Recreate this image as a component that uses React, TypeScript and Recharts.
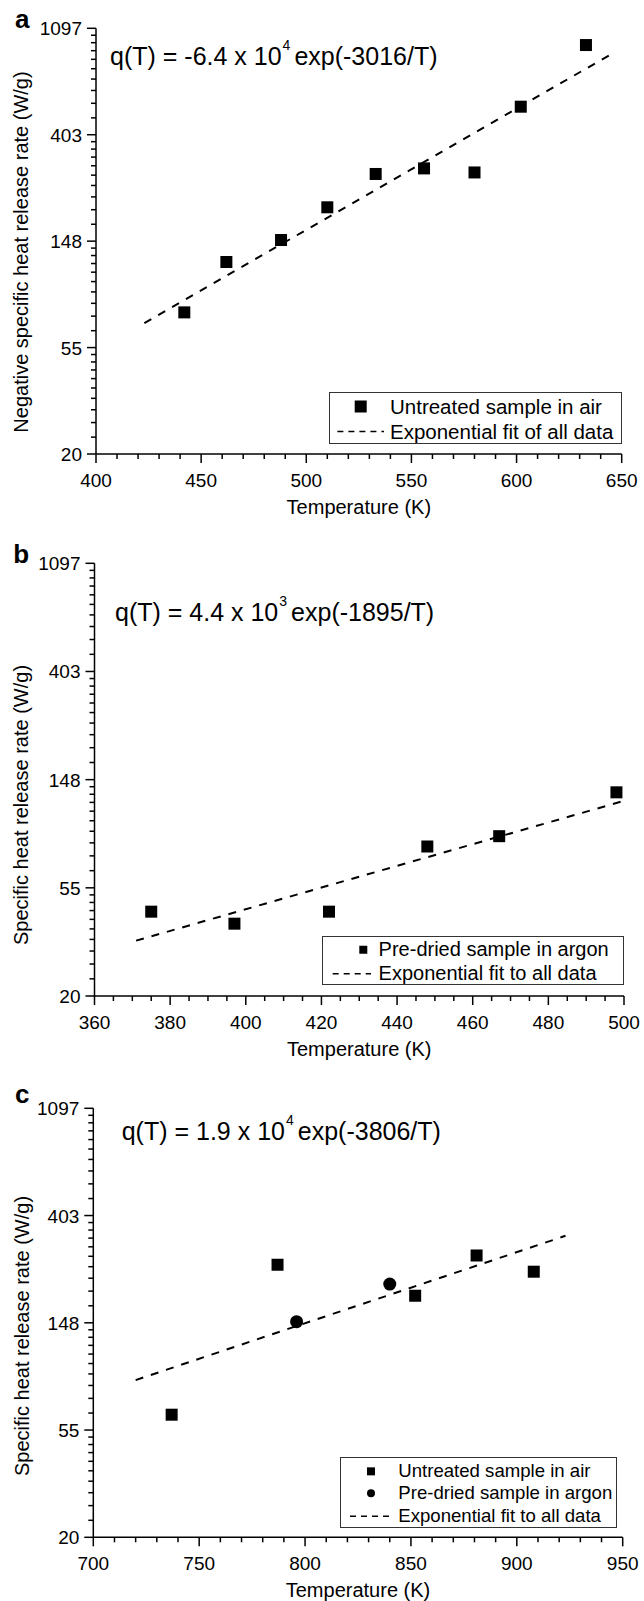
import type { ReactNode } from 'react';
import { ScatterChart, Scatter, XAxis, YAxis, Legend } from 'recharts';

const FONT = '"Liberation Sans", Arial, Helvetica, sans-serif';
const INK = '#000';

// heat release axis is ln-spaced: e^3 … e^7
const Q_MAJOR = [20.0855, 54.5982, 148.4132, 403.4288, 1096.6332];

// panel a – untreated sample in air
const A_T = [442, 462, 488, 510, 533, 556, 580, 602, 633];
const A_Q = [76, 122, 150, 204, 279, 294, 283, 525, 937];
const A_FIT_T = [423, 647];
const A_FIT_Q = [68.7, 880];
const A_X_MAJOR = [400, 450, 500, 550, 600, 650];

// panel b – pre-dried sample in argon
const B_T = [375, 397, 422, 448, 467, 498];
const B_Q = [43.8, 39.2, 43.8, 80, 88, 132];
const B_FIT_T = [371, 500];
const B_FIT_Q = [33.5, 122];
const B_X_MAJOR = [360, 380, 400, 420, 440, 460, 480, 500];

// panel c – both sample types
const C_AIR_T = [737, 787, 852, 881, 908];
const C_AIR_Q = [63, 255, 191, 278, 239];
const C_ARGON_T = [796, 840];
const C_ARGON_Q = [150, 213];
const C_FIT_T = [720, 923];
const C_FIT_Q = [87, 334];
const C_X_MAJOR = [700, 750, 800, 850, 900, 950];

type Pt = { t: number; q: number };
const pts = (ts: number[], qs: number[]): Pt[] => ts.map((t, i) => ({ t, q: qs[i] }));

const qMinor = Q_MAJOR.slice(0, -1).flatMap((lo, i) => {
  const hi = Q_MAJOR[i + 1];
  return Array.from({ length: 9 }, (_, k) => lo + ((k + 1) * (hi - lo)) / 10);
});
const Q_TICKS = [...Q_MAJOR, ...qMinor].sort((a, b) => a - b);

const xTicks = (major: number[], step: number) => {
  const out: number[] = [];
  for (let v = major[0]; v <= major[major.length - 1]; v += step) out.push(v);
  return out;
};

const xTick = (majors: number[]) => (props: any) => {
  const { x, y, payload } = props;
  const major = majors.includes(payload.value);
  return (
    <g>
      <line x1={x} y1={y} x2={x} y2={y + (major ? 9 : 5)} stroke={INK} strokeWidth={1.5} />
      {major && (
        <text x={x} y={y + 33} textAnchor="middle" fontSize={19} fontFamily={FONT} fill={INK}>
          {payload.value}
        </text>
      )}
    </g>
  );
};

const yTick = (props: any) => {
  const { x, y, payload } = props;
  const major = Q_MAJOR.includes(payload.value);
  return (
    <g>
      <line x1={x} y1={y} x2={x - (major ? 9 : 5)} y2={y} stroke={INK} strokeWidth={1.5} />
      {major && (
        <text x={x - 14} y={y + 7} textAnchor="end" fontSize={19} fontFamily={FONT} fill={INK}>
          {Math.round(payload.value)}
        </text>
      )}
    </g>
  );
};

const square = (s: number) => (p: any) =>
  <rect x={p.cx - s / 2} y={p.cy - s / 2} width={s} height={s} fill={INK} />;
const dot = (d: number) => (p: any) => <circle cx={p.cx} cy={p.cy} r={d / 2} fill={INK} />;
const noMark = () => <g />;

const fitLine = { stroke: INK, strokeWidth: 2, strokeDasharray: '8 8' };

type LegendRow = { kind: 'square' | 'circle' | 'dash'; text: string };

interface LegendBoxProps {
  rows: LegendRow[];
  rowH: number;
  padTop: number;
  markX: number;
  textX: number;
  dash: [number, number];
  mark: number;
  fontSize: number;
}

function LegendBox({ rows, rowH, padTop, markX, textX, dash, mark, fontSize }: LegendBoxProps) {
  return (
    <div
      style={{
        boxSizing: 'border-box',
        width: '100%',
        height: '100%',
        border: '1px solid #333',
        background: '#fff',
        paddingTop: padTop,
        fontFamily: FONT,
        fontSize,
        color: INK,
      }}
    >
      {rows.map((r) => (
        <div
          key={r.text}
          style={{ position: 'relative', height: rowH, lineHeight: `${rowH}px`, paddingLeft: textX, whiteSpace: 'nowrap' }}
        >
          <svg style={{ position: 'absolute', left: 0, top: 0 }} width={textX} height={rowH}>
            {r.kind === 'square' && (
              <rect x={markX - mark / 2} y={rowH / 2 - mark / 2} width={mark} height={mark} fill={INK} />
            )}
            {r.kind === 'circle' && <circle cx={markX} cy={rowH / 2} r={mark / 2} fill={INK} />}
            {r.kind === 'dash' && (
              <line x1={dash[0]} y1={rowH / 2} x2={dash[1]} y2={rowH / 2} stroke={INK} strokeWidth={1.5} strokeDasharray="6 5" />
            )}
          </svg>
          {r.text}
        </div>
      ))}
    </div>
  );
}

interface SeriesDef {
  key: string;
  data: Pt[];
  shape: (p: any) => ReactNode;
  line?: boolean;
}

interface PanelProps {
  top: number;
  height: number;
  left: number;
  right: number;
  plotTop: number;
  plotBottom: number;
  xDomain: [number, number];
  xMajor: number[];
  xStep: number;
  yTitle: string;
  yTitleX: number;
  yTitleY: number;
  series: SeriesDef[];
  legendBox: { left: number; top: number; width: number; height: number };
  legend: LegendBoxProps;
}

const Y_AXIS_W = 60;
const W = 644;

function Panel(p: PanelProps) {
  const xAxisH = p.height - p.plotBottom;
  const cx = (p.left + p.right) / 2;
  return (
    <div style={{ position: 'absolute', left: 0, top: p.top, width: W, height: p.height }}>
      <ScatterChart
        width={W}
        height={p.height}
        margin={{ top: p.plotTop, right: W - p.right, bottom: 0, left: p.left - Y_AXIS_W }}
      >
        <XAxis
          type="number"
          dataKey="t"
          domain={p.xDomain}
          ticks={xTicks(p.xMajor, p.xStep)}
          interval={0}
          height={xAxisH}
          tickSize={0}
          tickMargin={0}
          tickLine={false}
          tick={xTick(p.xMajor)}
          axisLine={{ stroke: INK, strokeWidth: 1.5 }}
          allowDataOverflow
          label={() => (
            <text x={cx} y={p.plotBottom + 59.5} textAnchor="middle" fontSize={20} fontFamily={FONT} fill={INK}>
              Temperature (K)
            </text>
          )}
        />
        <YAxis
          type="number"
          dataKey="q"
          scale="log"
          domain={[Q_MAJOR[0], Q_MAJOR[Q_MAJOR.length - 1]]}
          ticks={Q_TICKS}
          interval={0}
          width={Y_AXIS_W}
          tickSize={0}
          tickMargin={0}
          tickLine={false}
          tick={yTick}
          axisLine={{ stroke: INK, strokeWidth: 1.5 }}
          allowDataOverflow
          label={() => (
            <text
              x={p.yTitleX}
              y={p.yTitleY}
              transform={`rotate(-90 ${p.yTitleX} ${p.yTitleY})`}
              textAnchor="middle"
              fontSize={20}
              fontFamily={FONT}
              fill={INK}
            >
              {p.yTitle}
            </text>
          )}
        />
        {p.series.map((s) => (
          <Scatter
            key={s.key}
            data={s.data}
            shape={s.shape}
            line={s.line ? fitLine : false}
            isAnimationActive={false}
          />
        ))}
        <Legend
          layout="vertical"
          align="center"
          verticalAlign="middle"
          wrapperStyle={{ ...p.legendBox }}
          content={() => <LegendBox {...p.legend} />}
        />
      </ScatterChart>
    </div>
  );
}

function Formula({ x, y, coef, power, tail }: { x: number; y: number; coef: string; power: string; tail: string }) {
  return (
    <text x={x} y={y} fontSize={25} fontFamily={FONT} fill={INK}>
      {coef}
      <tspan fontSize={14} dx={1} dy={-15}>
        {power}
      </tspan>
      <tspan dx={4} dy={15}>
        {tail}
      </tspan>
    </text>
  );
}

export default function App() {
  return (
    <div style={{ position: 'absolute', left: 0, top: 0, width: W, height: 1601, background: '#fff' }}>
      <Panel
        top={0}
        height={530}
        left={96}
        right={621.7}
        plotTop={28.3}
        plotBottom={454}
        xDomain={[400, 650]}
        xMajor={A_X_MAJOR}
        xStep={10}
        yTitle="Negative specific heat release rate (W/g)"
        yTitleX={27.5}
        yTitleY={252}
        series={[
          { key: 'fit', data: pts(A_FIT_T, A_FIT_Q), shape: noMark, line: true },
          { key: 'air', data: pts(A_T, A_Q), shape: square(12) },
        ]}
        legendBox={{ left: 329.3, top: 392.3, width: 292.4, height: 51.7 }}
        legend={{
          rows: [
            { kind: 'square', text: 'Untreated sample in air' },
            { kind: 'dash', text: 'Exponential fit of all data' },
          ],
          rowH: 25,
          padTop: 1,
          markX: 30.7,
          textX: 59.7,
          dash: [7.4, 54],
          mark: 12,
          fontSize: 20.5,
        }}
      />
      <Panel
        top={530}
        height={540}
        left={94.5}
        right={624}
        plotTop={33.3}
        plotBottom={466}
        xDomain={[360, 500]}
        xMajor={B_X_MAJOR}
        xStep={5}
        yTitle="Specific heat release rate (W/g)"
        yTitleX={28}
        yTitleY={275}
        series={[
          { key: 'fit', data: pts(B_FIT_T, B_FIT_Q), shape: noMark, line: true },
          { key: 'argon', data: pts(B_T, B_Q), shape: square(12) },
        ]}
        legendBox={{ left: 322, top: 406, width: 302, height: 49.3 }}
        legend={{
          rows: [
            { kind: 'square', text: 'Pre-dried sample in argon' },
            { kind: 'dash', text: 'Exponential fit to all data' },
          ],
          rowH: 23.5,
          padTop: 1,
          markX: 40.3,
          textX: 55.6,
          dash: [9.7, 48],
          mark: 8,
          fontSize: 20,
        }}
      />
      <Panel
        top={1070}
        height={531}
        left={93.3}
        right={622.7}
        plotTop={38.3}
        plotBottom={467.3}
        xDomain={[700, 950]}
        xMajor={C_X_MAJOR}
        xStep={10}
        yTitle="Specific heat release rate (W/g)"
        yTitleX={29}
        yTitleY={266}
        series={[
          { key: 'fit', data: pts(C_FIT_T, C_FIT_Q), shape: noMark, line: true },
          { key: 'air', data: pts(C_AIR_T, C_AIR_Q), shape: square(12) },
          { key: 'argon', data: pts(C_ARGON_T, C_ARGON_Q), shape: dot(13) },
        ]}
        legendBox={{ left: 340, top: 386.7, width: 277.3, height: 71.6 }}
        legend={{
          rows: [
            { kind: 'square', text: 'Untreated sample in air' },
            { kind: 'circle', text: 'Pre-dried sample in argon' },
            { kind: 'dash', text: 'Exponential fit to all data' },
          ],
          rowH: 22.7,
          padTop: 2,
          markX: 30,
          textX: 57.3,
          dash: [9, 48],
          mark: 8,
          fontSize: 18.6,
        }}
      />
      <svg
        width={W}
        height={1601}
        style={{ position: 'absolute', left: 0, top: 0, pointerEvents: 'none' }}
      >
        <g fontFamily={FONT} fontWeight="bold" fontSize={26} fill={INK}>
          <text x={15} y={28.3}>a</text>
          <text x={13.3} y={563.3}>b</text>
          <text x={15} y={1103.3}>c</text>
        </g>
        <Formula x={110} y={65} coef="q(T) = -6.4 x 10" power="4" tail="exp(-3016/T)" />
        <Formula x={115} y={621} coef="q(T) = 4.4 x 10" power="3" tail="exp(-1895/T)" />
        <Formula x={121.7} y={1140} coef="q(T) = 1.9 x 10" power="4" tail="exp(-3806/T)" />
      </svg>
    </div>
  );
}
